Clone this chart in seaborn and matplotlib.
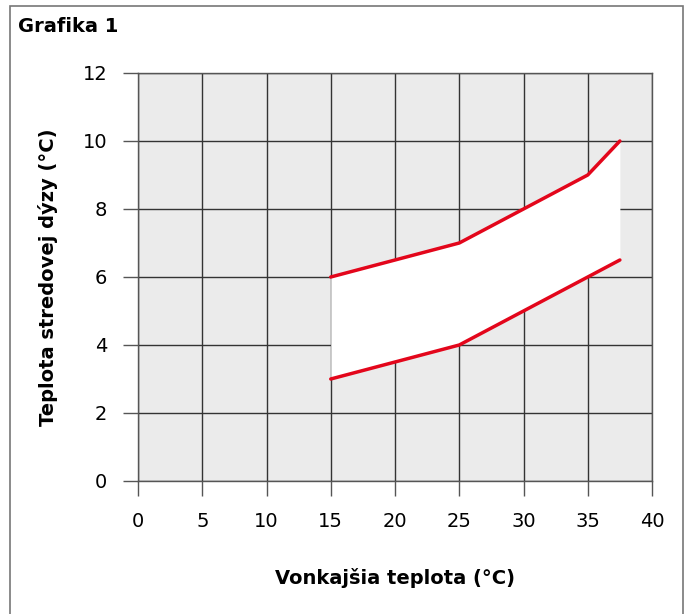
import numpy as np
import pandas as pd
import matplotlib
matplotlib.use("Agg")
import matplotlib.pyplot as plt
from matplotlib.patches import Rectangle
import seaborn as sns

# data
outside_temp = [15, 20, 25, 30, 35, 37.5]
upper_limit = [6, 6.5, 7, 8, 9, 10]
lower_limit = [3, 3.5, 4, 5, 6, 6.5]

x_ticks = [0, 5, 10, 15, 20, 25, 30, 35, 40]
y_ticks = [0, 2, 4, 6, 8, 10, 12]

df = pd.DataFrame({"x": outside_temp, "upper": upper_limit, "lower": lower_limit})

sns.set_theme(style="white")
plt.rcParams['font.family'] = ['DejaVu Sans']

red = "#e3061b"
grid_col = "#333333"

fig = plt.figure(figsize=(6.84, 6.14), dpi=100)
ax = fig.add_axes([138 / 684, 1 - 481 / 614, (652 - 138) / 684, (481 - 73) / 614])
ax.set_facecolor("#ebebeb")

# white band between the two limits
ax.fill_between(df["x"], df["lower"], df["upper"], color="white", zorder=2, linewidth=0)
sns.lineplot(data=df, x="x", y="upper", color=red, linewidth=2.5, ax=ax, zorder=3)
sns.lineplot(data=df, x="x", y="lower", color=red, linewidth=2.5, ax=ax, zorder=3)
for ln in ax.lines:
    ln.set_solid_joinstyle("round")

ax.set_xlim(0, 40)
ax.set_ylim(0, 12)
ax.set_xticks(x_ticks)
ax.set_yticks(y_ticks)
ax.set_axisbelow(True)
ax.grid(True, color=grid_col, linewidth=1)
for s in ax.spines.values():
    s.set_visible(True)
    s.set_color("#555555")
    s.set_linewidth(1)
ax.tick_params(axis="both", bottom=True, left=True, length=11, width=1,
               color="#555555", pad=11, labelsize=14, labelcolor="black",
               direction="out")

ax.set_xlabel("Vonkajšia teplota (°C)", fontsize=14, fontweight="bold",
              labelpad=27, color="black")
ax.set_ylabel("Teplota stredovej dýzy (°C)", fontsize=14, fontweight="bold",
              labelpad=18, color="black")

fig.text(18 / 684, 1 - 26 / 614, "Grafika 1", fontsize=14, fontweight="bold",
         va="center", ha="left", color="black")

# frame around the whole graphic
fig.patches.append(Rectangle((10 / 684, -0.01), 673 / 684, 1 - 6 / 614 + 0.01,
                             transform=fig.transFigure, fill=False,
                             edgecolor="#777777", linewidth=1.2))

fig.savefig("out.png", dpi=100)
